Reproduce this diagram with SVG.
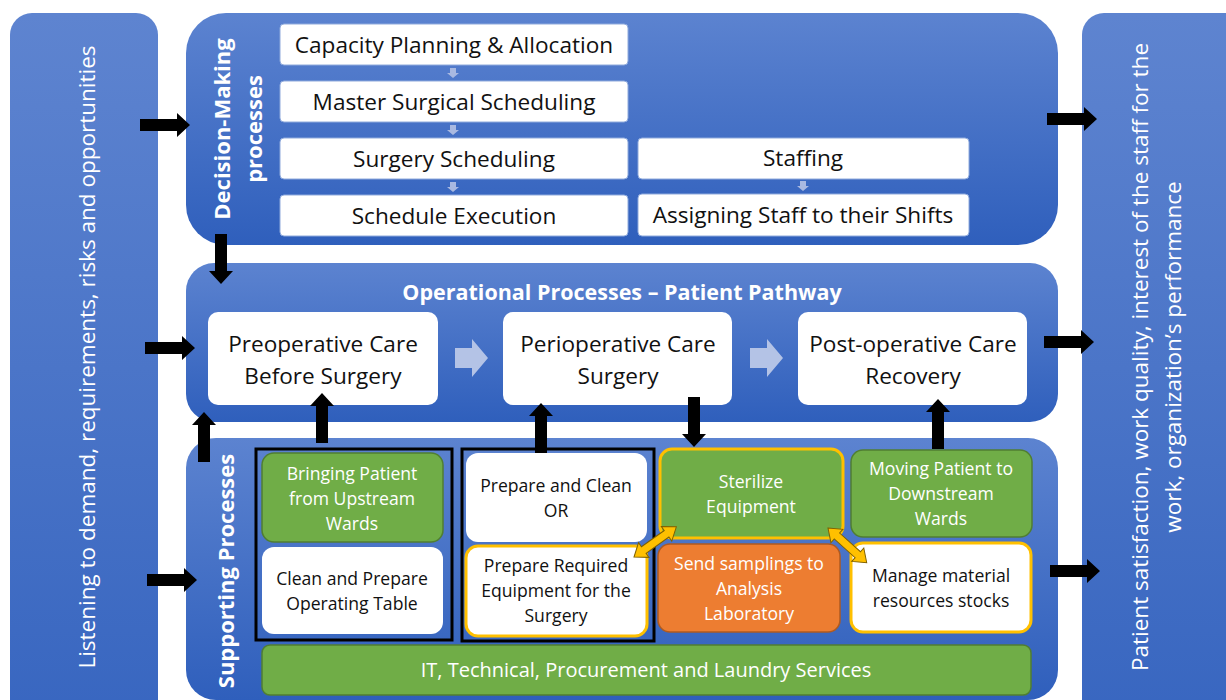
<svg xmlns="http://www.w3.org/2000/svg" xmlns:xlink="http://www.w3.org/1999/xlink" width="1226" height="700" viewBox="0 0 1226 700">
<style>
text{font-family:"Open Sans","Noto Sans","Liberation Sans",sans-serif;text-anchor:middle}
.side{fill:#fff;font-size:22.5px}
.lbl{fill:#fff;font-size:22px;font-weight:bold}
.ttl{fill:#fff;font-size:21.5px;font-weight:bold}
.dbox{fill:#fff;stroke:#8faadc;stroke-width:1}
.dt{fill:#111;font-size:22.6px}
.obox{fill:#fff}
.ot{fill:#111;font-size:22.6px}
.st{font-size:17.6px}
.w{fill:#fff}
.k{fill:#111}
.green{fill:#70ad47;stroke:#507e32;stroke-width:1.5}
.orange{fill:#ed7d31;stroke:#ae5a21;stroke-width:1.5}
.white{fill:#fff}
.yb{stroke:#ffc000;stroke-width:3}
.frame{fill:none;stroke:#000;stroke-width:3}
.la{fill:#a9b9e1}
.lb{fill:#b4c3e6}
.ya{fill:#ffc000;stroke:#7f6000;stroke-width:1}
</style>
<defs>
<linearGradient id="gSide" x1="0" y1="0" x2="0" y2="1">
<stop offset="0" stop-color="#5e84d0"/><stop offset="1" stop-color="#3866c0"/>
</linearGradient>
<linearGradient id="gPanel" x1="0" y1="0" x2="0" y2="1">
<stop offset="0" stop-color="#5c83d0"/><stop offset="1" stop-color="#2f5fbc"/>
</linearGradient>
<path id="blk" d="M0,-6 H37 V-12 L50,0 L37,12 V6 H0 Z" fill="#000"/>
<path id="sdn" d="M-3,0 H3 V5 H6 L0,10 L-6,5 H-3 Z" class="la"/>
<path id="big" d="M0,-10 H17 V-19 L33,0 L17,19 V10 H0 Z" class="lb"/>
<path id="dbl" d="M0,0 L12,-9 V-4 H40 V-9 L52,0 L40,9 V4 H12 V9 Z" class="ya"/>
</defs>

<g id="inputs">
<rect x="10" y="13" width="148" height="710" rx="22" fill="url(#gSide)"/>
<text class="side" transform="translate(95,357) rotate(-90)">Listening to demand, requirements, risks and opportunities</text>
</g>

<g id="outputs">
<rect x="1082" y="13" width="170" height="710" rx="22" fill="url(#gSide)"/>
<text class="side" transform="translate(1148,357) rotate(-90)">Patient satisfaction, work quality, interest of the staff for the</text>
<text class="side" transform="translate(1181,357) rotate(-90)">work, organization’s performance</text>
</g>

<g id="decision-panel">
<rect x="186" y="13" width="872" height="232" rx="40" fill="url(#gPanel)"/>
<text class="lbl" transform="translate(230,129) rotate(-90)">Decision-Making</text>
<text class="lbl" transform="translate(262,129) rotate(-90)">processes</text>
</g>
<g id="capacity-planning"><rect class="dbox" x="280" y="24" width="348" height="41" rx="4"/><text class="dt" x="454" y="52.5">Capacity Planning &amp; Allocation</text></g>
<g id="master-surgical-scheduling"><rect class="dbox" x="280" y="81" width="348" height="41" rx="4"/><text class="dt" x="454" y="109.5">Master Surgical Scheduling</text></g>
<g id="surgery-scheduling"><rect class="dbox" x="280" y="138" width="348" height="41" rx="4"/><text class="dt" x="454" y="166.5">Surgery Scheduling</text></g>
<g id="schedule-execution"><rect class="dbox" x="280" y="195" width="348" height="41" rx="4"/><text class="dt" x="454" y="223.5">Schedule Execution</text></g>
<g id="staffing"><rect class="dbox" x="638" y="138" width="331" height="41" rx="4"/><text class="dt" x="803" y="166">Staffing</text></g>
<g id="assigning-staff"><rect class="dbox" x="638" y="194" width="331" height="42" rx="4"/><text class="dt" x="803" y="222.5">Assigning Staff to their Shifts</text></g>

<g id="operational-panel">
<rect x="186" y="263" width="872" height="159" rx="28" fill="url(#gPanel)"/>
<text class="ttl" x="622" y="300">Operational Processes – Patient Pathway</text>
</g>
<g id="preoperative"><rect class="obox" x="208" y="312" width="230" height="93" rx="10"/><text class="ot" x="323" y="352">Preoperative Care</text><text class="ot" x="323" y="384">Before Surgery</text></g>
<g id="perioperative"><rect class="obox" x="503" y="312" width="229" height="93" rx="10"/><text class="ot" x="618" y="352">Perioperative Care</text><text class="ot" x="618" y="384">Surgery</text></g>
<g id="postoperative"><rect class="obox" x="798" y="312" width="229" height="93" rx="10"/><text class="ot" x="913" y="352">Post-operative Care</text><text class="ot" x="913" y="384">Recovery</text></g>

<g id="supporting-panel">
<rect x="186" y="438" width="872" height="262" rx="30" fill="url(#gPanel)"/>
<text class="lbl" transform="translate(234,571) rotate(-90)">Supporting Processes</text>
<rect class="frame" x="256" y="449" width="196" height="191"/>
<rect class="frame" x="462" y="449" width="192" height="192"/>
</g>
<g id="bringing-patient"><rect class="green" x="262" y="453" width="181" height="89" rx="12"/><text class="st w" x="352" y="480">Bringing Patient</text><text class="st w" x="352" y="505">from Upstream</text><text class="st w" x="352" y="530">Wards</text></g>
<g id="clean-prepare-table"><rect class="white" x="262" y="547" width="181" height="87" rx="12"/><text class="st k" x="352" y="585">Clean and Prepare</text><text class="st k" x="352" y="610">Operating Table</text></g>
<g id="prepare-clean-or"><rect class="white" x="466" y="453" width="181" height="89" rx="12"/><text class="st k" x="556" y="492">Prepare and Clean</text><text class="st k" x="556" y="517">OR</text></g>
<g id="prepare-equipment"><rect class="white yb" x="466" y="546" width="181" height="90" rx="12"/><text class="st k" x="556" y="572">Prepare Required</text><text class="st k" x="556" y="597">Equipment for the</text><text class="st k" x="556" y="622">Surgery</text></g>
<g id="sterilize"><rect class="green yb" x="660" y="449" width="183" height="89" rx="12"/><text class="st w" x="751" y="488">Sterilize</text><text class="st w" x="751" y="513">Equipment</text></g>
<g id="send-samplings"><rect class="orange" x="658" y="544" width="182" height="88" rx="12"/><text class="st w" x="749" y="570">Send samplings to</text><text class="st w" x="749" y="595">Analysis</text><text class="st w" x="749" y="620">Laboratory</text></g>
<g id="moving-patient"><rect class="green" x="851" y="450" width="181" height="87" rx="12"/><text class="st w" x="941" y="475">Moving Patient to</text><text class="st w" x="941" y="500">Downstream</text><text class="st w" x="941" y="525">Wards</text></g>
<g id="manage-stocks"><rect class="white yb" x="851" y="543" width="180" height="89" rx="12"/><text class="st k" x="941" y="582">Manage material</text><text class="st k" x="941" y="607">resources stocks</text></g>
<g id="it-services"><rect class="green" x="262" y="645" width="769" height="50" rx="8"/><text class="w" x="646" y="677" font-size="20px">IT, Technical, Procurement and Laundry Services</text></g>

<g id="connectors">
<use xlink:href="#sdn" x="453" y="68"/>
<use xlink:href="#sdn" x="453" y="125"/>
<use xlink:href="#sdn" x="453" y="182"/>
<use xlink:href="#sdn" x="803" y="181"/>
<use xlink:href="#big" transform="translate(455,358)"/>
<use xlink:href="#big" transform="translate(750,358)"/>
<use xlink:href="#blk" transform="translate(140,125)"/>
<use xlink:href="#blk" transform="translate(145,348)"/>
<use xlink:href="#blk" transform="translate(147,580)"/>
<use xlink:href="#blk" transform="translate(221,234) rotate(90)"/>
<use xlink:href="#blk" transform="translate(204,462) rotate(-90)"/>
<use xlink:href="#blk" transform="translate(322,443) rotate(-90)"/>
<use xlink:href="#blk" transform="translate(541,453) rotate(-90)"/>
<use xlink:href="#blk" transform="translate(694,397) rotate(90)"/>
<use xlink:href="#blk" transform="translate(938,449) rotate(-90)"/>
<use xlink:href="#blk" transform="translate(1047,119)"/>
<use xlink:href="#blk" transform="translate(1044,342)"/>
<use xlink:href="#blk" transform="translate(1050,571)"/>
<use xlink:href="#dbl" transform="translate(634,557) rotate(-35.5)"/>
<use xlink:href="#dbl" transform="translate(828,528) rotate(41.9)"/>
</g>
</svg>
